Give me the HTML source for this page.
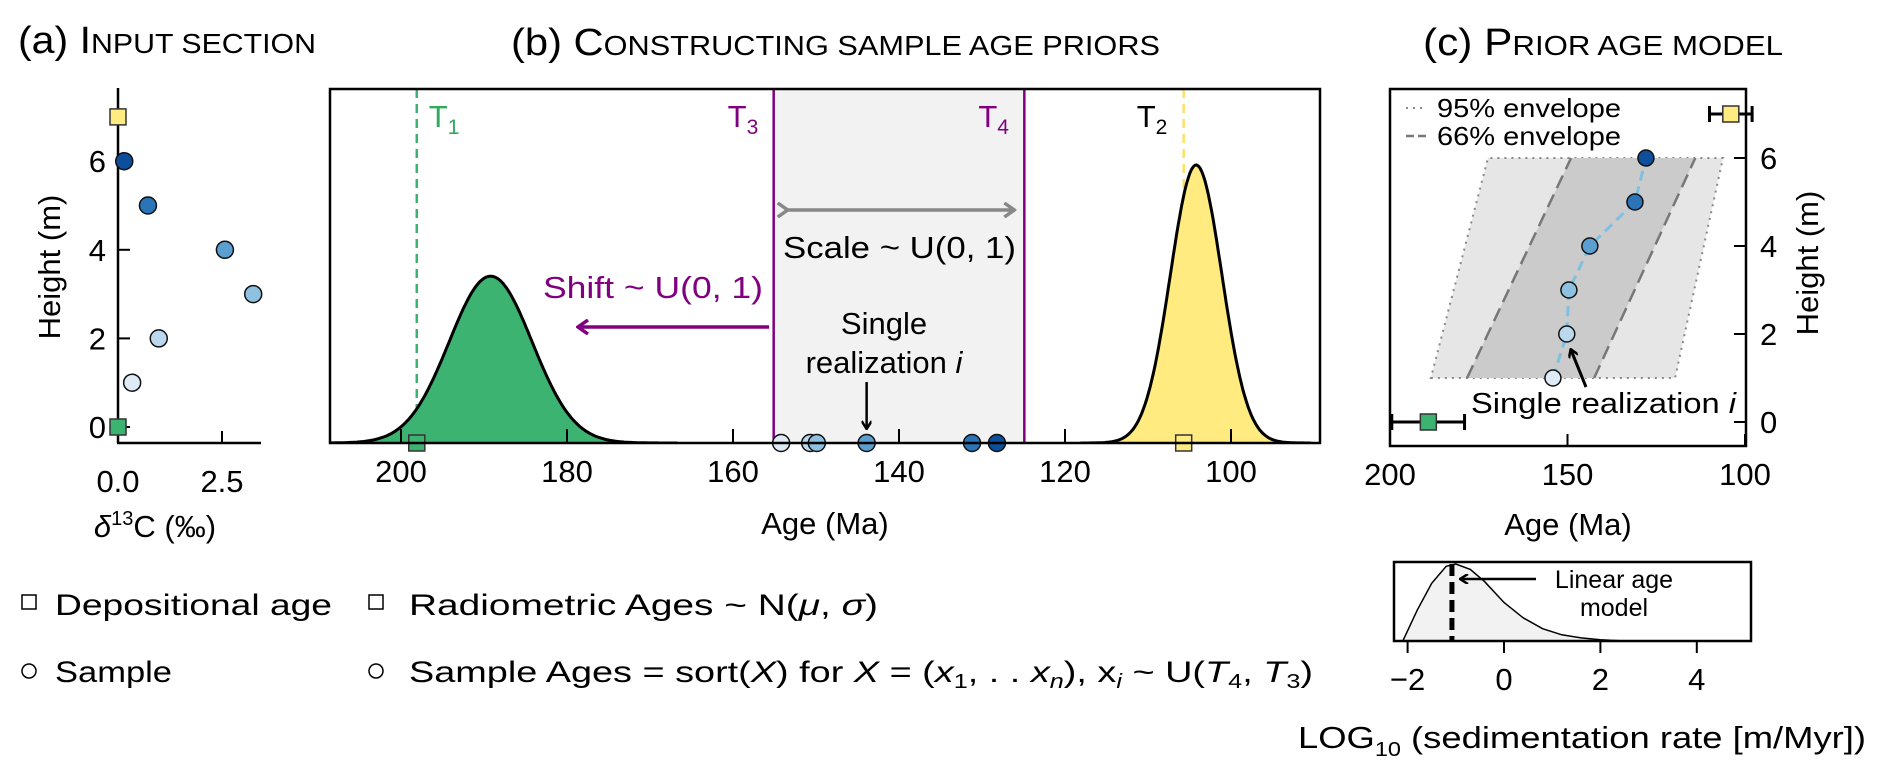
<!DOCTYPE html>
<html><head><meta charset="utf-8"><style>
body{margin:0;background:#fff}
svg{display:block;font-family:"Liberation Sans",sans-serif}
</style></head><body>
<svg id="fig" width="1892" height="776" viewBox="0 0 1892 776" xmlns="http://www.w3.org/2000/svg">
<defs>
<marker id="ahB" markerWidth="10" markerHeight="10" refX="8" refY="5" orient="auto" markerUnits="userSpaceOnUse"><path d="M1,0 L9,5 L1,10" fill="none" stroke="#000" stroke-width="2.5"/></marker>
<marker id="ahP" markerWidth="14" markerHeight="16" refX="12" refY="8" orient="auto" markerUnits="userSpaceOnUse"><path d="M2,1 L12,8 L2,15" fill="none" stroke="#800080" stroke-width="3.5"/></marker>
<marker id="ahG" markerWidth="14" markerHeight="16" refX="12" refY="8" orient="auto" markerUnits="userSpaceOnUse"><path d="M2,1 L12,8 L2,15" fill="none" stroke="#888" stroke-width="3.5"/></marker>
<clipPath id="clipB"><rect x="330" y="89" width="990" height="354"/></clipPath>
<clipPath id="clipD"><rect x="1394" y="562" width="357" height="79"/></clipPath>
</defs>

<text x="18" y="53" font-size="38" textLength="298" lengthAdjust="spacingAndGlyphs">(a) I<tspan font-size="28">NPUT SECTION</tspan></text>
<text x="511" y="55" font-size="38" textLength="649" lengthAdjust="spacingAndGlyphs">(b) C<tspan font-size="28">ONSTRUCTING SAMPLE AGE PRIORS</tspan></text>
<text x="1423" y="55" font-size="38" textLength="360" lengthAdjust="spacingAndGlyphs">(c) P<tspan font-size="28">RIOR AGE MODEL</tspan></text>

<g id="pa"></g>
<g id="pb"></g>
<g id="pc"></g>
<g id="pd"></g>

<g font-size="30">
<rect x="22" y="595" width="14" height="14" fill="none" stroke="#000" stroke-width="1.5"/>
<text x="55" y="615" textLength="277" lengthAdjust="spacingAndGlyphs">Depositional age</text>
<circle cx="29" cy="671" r="7" fill="none" stroke="#000" stroke-width="1.5"/>
<text x="55" y="682" textLength="117" lengthAdjust="spacingAndGlyphs">Sample</text>
<rect x="369" y="595" width="14" height="14" fill="none" stroke="#000" stroke-width="1.5"/>
<text x="409" y="615" textLength="469" lengthAdjust="spacingAndGlyphs">Radiometric Ages  ~  N(<tspan font-style="italic">μ</tspan>, <tspan font-style="italic">σ</tspan>)</text>
<circle cx="376" cy="671" r="7" fill="none" stroke="#000" stroke-width="1.5"/>
<text x="409" y="682" textLength="904" lengthAdjust="spacingAndGlyphs">Sample Ages = sort(<tspan font-style="italic">X</tspan>) for <tspan font-style="italic">X</tspan> = (<tspan font-style="italic">x</tspan><tspan font-size="20" dy="6">1</tspan><tspan dy="-6">, . . </tspan><tspan font-style="italic">x</tspan><tspan font-size="20" dy="6" font-style="italic">n</tspan><tspan dy="-6">),  x</tspan><tspan font-size="20" dy="6" font-style="italic">i</tspan><tspan dy="-6"> ~ U(</tspan><tspan font-style="italic">T</tspan><tspan font-size="20" dy="6">4</tspan><tspan dy="-6">,  </tspan><tspan font-style="italic">T</tspan><tspan font-size="20" dy="6">3</tspan><tspan dy="-6">)</tspan></text>
</g>
</svg>
<script>
// ---------- data ----------
const heights = [1, 2, 3, 4, 5, 6];
const d13C = [0.34, 0.98, 3.25, 2.57, 0.72, 0.15];
const sampleColors = ['#deebf7', '#bcd8ee', '#8ec1e0', '#5b9fd0', '#2b74b7', '#0d4f9a'];
const depHeights = [0, 7];
const depColors = ['#3cb371', '#ffeb80'];
const aYTicks = [0, 2, 4, 6];
const aXTicks = [0, 2.5];
const aXTickLabels = ['0.0', '2.5'];

const bXTicks = [200, 180, 160, 140, 120, 100];
const distMu = [189.2, 104.2];
const distSigma = [5.0, 3.1];
const distPeak = [0.6, 1.0];
const tAges = [198.1, 105.7, 155.1, 124.9]; // T1, T2, T3, T4
const priorSampleAges = [154.2, 150.7, 149.9, 143.9, 131.2, 128.2];

const cSampleAges = [154.1, 150.2, 149.6, 143.7, 131.0, 127.9];
const env95Low = [188.5, 172.4];
const env95High = [119.7, 106.2];
const env66Low = [178.3, 149];
const env66High = [142.5, 114];
const envHeights = [1, 6];
const depAgeMean = [189.2, 104];
const depAgeLo = [199.5, 110];
const depAgeHi = [179, 98];
const cXTicks = [200, 150, 100];

const rateX = [-2.1, -1.8, -1.5, -1.2, -1.0, -0.7, -0.4, 0, 0.4, 0.8, 1.2, 1.6, 2.0, 2.5, 5.2];
const rateD = [0, 0.4, 0.75, 0.97, 1.0, 0.93, 0.77, 0.5, 0.3, 0.16, 0.08, 0.04, 0.015, 0, 0];
const rateTicks = [-2, 0, 2, 4];
const linearRate = -1.08;

const NS = 'http://www.w3.org/2000/svg';
function mk(tag, parent, attrs) { const e = document.createElementNS(NS, tag); for (const k in attrs) e.setAttribute(k, attrs[k]); parent.appendChild(e); return e; }

// ---------- panel a ----------
const pa = document.getElementById('pa');
const ax = v => 118 + 41.6 * v;
const ay = h => 427 - 44.3 * h;
let e;
e = mk('line', pa, {x1: 118, y1: 88, x2: 118, y2: 443, stroke: '#000', 'stroke-width': 2.5});
 
e = mk('line', pa, {x1: 117, y1: 443, x2: 261, y2: 443, stroke: '#000', 'stroke-width': 2.5});
 
aYTicks.forEach(t => {
  e = mk('line', pa, {x1: 118, y1: ay(t), x2: 130, y2: ay(t), stroke: '#000', 'stroke-width': 2});
   
  e = mk('text', pa, {x: 106, y: ay(t) + 11, 'font-size': 31, 'text-anchor': 'end'}); e.textContent = t;
   
});
aXTicks.forEach((t, i) => {
  e = mk('line', pa, {x1: ax(t), y1: 443, x2: ax(t), y2: 431, stroke: '#000', 'stroke-width': 2});
   
  e = mk('text', pa, {x: ax(t), y: 492, 'font-size': 31, 'text-anchor': 'middle'}); e.textContent = aXTickLabels[i];
   
});
e = mk('text', pa, {x: 60, y: 267, 'font-size': 31, 'text-anchor': 'middle', transform: 'rotate(-90 60 267)'}); e.textContent = 'Height (m)';
 
e = mk('text', pa, {x: 155, y: 537, 'font-size': 31, 'text-anchor': 'middle'});
e.innerHTML = '<tspan font-style="italic">δ</tspan><tspan font-size="20" dy="-12">13</tspan><tspan dy="12">C (‰)</tspan>';
 
depHeights.forEach((h, i) => {
  e = mk('rect', pa, {x: 110, y: ay(h) - 8, width: 16, height: 16, fill: depColors[i], stroke: '#333', 'stroke-width': 1.5});
   
});
heights.forEach((h, i) => {
  e = mk('circle', pa, {cx: ax(d13C[i]), cy: ay(h), r: 8.5, fill: sampleColors[i], stroke: '#111', 'stroke-width': 1.5});
   
});

// ---------- panel b ----------
const pb = document.getElementById('pb');
const bx = a => 401 + (200 - a) * 8.3;
const B0 = 443, BT = 89, BH = 278;
e = mk('rect', pb, {x: bx(tAges[2]), y: BT, width: bx(tAges[3]) - bx(tAges[2]), height: B0 - BT, fill: '#f2f2f2'});
 
e = mk('line', pb, {x1: bx(tAges[0]), y1: BT, x2: bx(tAges[0]), y2: B0, stroke: '#3cb371', 'stroke-width': 2.5, 'stroke-dasharray': '9 6'});
 
e = mk('line', pb, {x1: bx(tAges[1]), y1: BT, x2: bx(tAges[1]), y2: B0, stroke: '#ffe066', 'stroke-width': 2.5, 'stroke-dasharray': '9 6'});
 
const distG = mk('g', pb, {'clip-path': 'url(#clipB)'});
 
distMu.forEach((mu, i) => {
  let d = '';
  for (let a = mu + 4.5 * distSigma[i]; a >= mu - 4.5 * distSigma[i]; a -= 0.2) {
    const v = distPeak[i] * Math.exp(-0.5 * ((a - mu) / distSigma[i]) ** 2);
    d += (d ? 'L' : 'M') + bx(a).toFixed(1) + ',' + (B0 - v * BH).toFixed(1);
  }
  e = mk('path', distG, {d: d, fill: depColors[i], stroke: '#000', 'stroke-width': 3});
   
});
[2, 3].forEach(k => {
  e = mk('line', pb, {x1: bx(tAges[k]), y1: BT, x2: bx(tAges[k]), y2: B0, stroke: '#800080', 'stroke-width': 2.5});
   
});
const tLab = [['T', '1', bx(tAges[0]) + 12, '#2eab5e'], ['T', '2', bx(tAges[1]) - 47, '#000'], ['T', '3', bx(tAges[2]) - 46, '#800080'], ['T', '4', bx(tAges[3]) - 46, '#800080']];
tLab.forEach(l => {
  e = mk('text', pb, {x: l[2], y: 127, 'font-size': 31, fill: l[3]});
  e.innerHTML = l[0] + '<tspan font-size="21" dy="7">' + l[1] + '</tspan>';
   
});
e = mk('line', pb, {x1: bx(tAges[2]) + 14, y1: 210, x2: bx(tAges[3]) - 10, y2: 210, stroke: '#888', 'stroke-width': 3.5, 'marker-end': 'url(#ahG)', 'marker-start': 'url(#ahG)'});
 
e = mk('text', pb, {x: 783, y: 258, 'font-size': 31, textLength: 233, lengthAdjust: 'spacingAndGlyphs'}); e.textContent = 'Scale ~ U(0, 1)';
 
e = mk('text', pb, {x: 543, y: 298, 'font-size': 31, fill: '#800080', textLength: 220, lengthAdjust: 'spacingAndGlyphs'}); e.textContent = 'Shift ~ U(0, 1)';
 
e = mk('line', pb, {x1: 769, y1: 327, x2: 578, y2: 327, stroke: '#800080', 'stroke-width': 3.5, 'marker-end': 'url(#ahP)'});
 
e = mk('text', pb, {x: 884, y: 334, 'font-size': 31, 'text-anchor': 'middle'}); e.textContent = 'Single';
 
e = mk('text', pb, {x: 884, y: 373, 'font-size': 31, 'text-anchor': 'middle'}); e.innerHTML = 'realization <tspan font-style="italic">i</tspan>';
 
e = mk('line', pb, {x1: bx(priorSampleAges[3]), y1: 382, x2: bx(priorSampleAges[3]), y2: 428, stroke: '#000', 'stroke-width': 2.5, 'marker-end': 'url(#ahB)'});
 
bXTicks.forEach(t => {
  e = mk('line', pb, {x1: bx(t), y1: B0, x2: bx(t), y2: B0 - 14, stroke: '#000', 'stroke-width': 2});
   
  e = mk('text', pb, {x: bx(t), y: 482, 'font-size': 31, 'text-anchor': 'middle'}); e.textContent = t;
   
});
e = mk('text', pb, {x: 825, y: 534, 'font-size': 31, 'text-anchor': 'middle'}); e.textContent = 'Age (Ma)';
 
e = mk('rect', pb, {x: bx(tAges[0]) - 8, y: B0 - 8, width: 16, height: 16, fill: depColors[0], stroke: '#333', 'stroke-width': 1.5});
 
e = mk('rect', pb, {x: bx(tAges[1]) - 8, y: B0 - 8, width: 16, height: 16, fill: depColors[1], stroke: '#333', 'stroke-width': 1.5});
 
priorSampleAges.forEach((a, i) => {
  e = mk('circle', pb, {cx: bx(a), cy: B0, r: 8.5, fill: sampleColors[i], stroke: '#111', 'stroke-width': 1.5});
   
});
e = mk('rect', pb, {x: 330, y: BT, width: 990, height: B0 - BT, fill: 'none', stroke: '#000', 'stroke-width': 2.5});
 

// ---------- panel c ----------
const pc = document.getElementById('pc');
const C0 = 446;
const cx = a => 1390 + (200 - a) * 3.55;
const cy = h => 422 - 44 * h;
function poly(lo, hi) { return [cx(lo[0]) + ',' + cy(envHeights[0]), cx(hi[0]) + ',' + cy(envHeights[0]), cx(hi[1]) + ',' + cy(envHeights[1]), cx(lo[1]) + ',' + cy(envHeights[1])].join(' '); }
e = mk('polygon', pc, {points: poly(env95Low, env95High), fill: '#e6e6e6', stroke: '#888', 'stroke-width': 2, 'stroke-dasharray': '2 5'});
 
e = mk('polygon', pc, {points: poly(env66Low, env66High), fill: '#cbcbcb', stroke: 'none'});
 
[env66Low, env66High].forEach(s => {
  e = mk('line', pc, {x1: cx(s[0]), y1: cy(envHeights[0]), x2: cx(s[1]), y2: cy(envHeights[1]), stroke: '#777', 'stroke-width': 2.5, 'stroke-dasharray': '14 7'});
   
});
e = mk('polyline', pc, {points: heights.map((h, i) => cx(cSampleAges[i]) + ',' + cy(h)).join(' '), fill: 'none', stroke: '#7fc0e0', 'stroke-width': 3, 'stroke-dasharray': '10 6'});
 
heights.forEach((h, i) => {
  e = mk('circle', pc, {cx: cx(cSampleAges[i]), cy: cy(h), r: 8, fill: sampleColors[i], stroke: '#111', 'stroke-width': 1.5});
   
});
depHeights.forEach((h, i) => {
  e = mk('line', pc, {x1: cx(depAgeLo[i]), y1: cy(h), x2: cx(depAgeHi[i]), y2: cy(h), stroke: '#000', 'stroke-width': 3});
   
  [depAgeLo[i], depAgeHi[i]].forEach(a => {
    e = mk('line', pc, {x1: cx(a), y1: cy(h) - 8, x2: cx(a), y2: cy(h) + 8, stroke: '#000', 'stroke-width': 3});
     
  });
  e = mk('rect', pc, {x: cx(depAgeMean[i]) - 8, y: cy(h) - 8, width: 16, height: 16, fill: depColors[i], stroke: '#333', 'stroke-width': 1.5});
   
});
aYTicks.forEach(t => {
  e = mk('line', pc, {x1: 1746, y1: cy(t), x2: 1734, y2: cy(t), stroke: '#000', 'stroke-width': 2});
   
  e = mk('text', pc, {x: 1760, y: cy(t) + 11, 'font-size': 31}); e.textContent = t;
   
});
cXTicks.forEach(t => {
  e = mk('line', pc, {x1: cx(t), y1: C0, x2: cx(t), y2: C0 - 12, stroke: '#000', 'stroke-width': 2});
   
  e = mk('text', pc, {x: cx(t), y: 485, 'font-size': 31, 'text-anchor': 'middle'}); e.textContent = t;
   
});
e = mk('text', pc, {x: 1818, y: 263, 'font-size': 31, 'text-anchor': 'middle', transform: 'rotate(-90 1818 263)'}); e.textContent = 'Height (m)';
 
e = mk('text', pc, {x: 1568, y: 535, 'font-size': 31, 'text-anchor': 'middle'}); e.textContent = 'Age (Ma)';
 
e = mk('line', pc, {x1: 1406, y1: 108, x2: 1426, y2: 108, stroke: '#888', 'stroke-width': 2, 'stroke-dasharray': '2 5'});
 
e = mk('text', pc, {x: 1437, y: 117, 'font-size': 26, textLength: 184, lengthAdjust: 'spacingAndGlyphs'}); e.textContent = '95% envelope';
 
e = mk('line', pc, {x1: 1406, y1: 136, x2: 1426, y2: 136, stroke: '#777', 'stroke-width': 2.5, 'stroke-dasharray': '8 4'});
 
e = mk('text', pc, {x: 1437, y: 145, 'font-size': 26, textLength: 184, lengthAdjust: 'spacingAndGlyphs'}); e.textContent = '66% envelope';
 
e = mk('text', pc, {x: 1471, y: 413, 'font-size': 29, textLength: 265, lengthAdjust: 'spacingAndGlyphs'}); e.innerHTML = 'Single realization <tspan font-style="italic">i</tspan>';
 
e = mk('line', pc, {x1: 1586, y1: 387, x2: 1571, y2: 350, stroke: '#000', 'stroke-width': 3, 'marker-end': 'url(#ahB)'});
 
e = mk('rect', pc, {x: 1390, y: 89, width: 356, height: C0 - 89, fill: 'none', stroke: '#000', 'stroke-width': 2.5});
 

// ---------- sedimentation rate panel ----------
const pd = document.getElementById('pd');
const dx = v => 1504 + v * 48.2;
const D0 = 641, DT = 562, DH = 77;
const dG = mk('g', pd, {'clip-path': 'url(#clipD)'});
 
let dd = '';
rateX.forEach((v, i) => { dd += (i ? 'L' : 'M') + dx(v).toFixed(1) + ',' + (D0 - rateD[i] * DH).toFixed(1); });
e = mk('path', dG, {d: dd + 'Z', fill: '#f2f2f2', stroke: 'none'});
 
e = mk('path', dG, {d: dd, fill: 'none', stroke: '#000', 'stroke-width': 1.5});
 
e = mk('line', pd, {x1: dx(linearRate), y1: DT + 2, x2: dx(linearRate), y2: D0, stroke: '#000', 'stroke-width': 5, 'stroke-dasharray': '12 6'});
 
e = mk('line', pd, {x1: 1536, y1: 579, x2: 1461, y2: 579, stroke: '#000', 'stroke-width': 2.5, 'marker-end': 'url(#ahB)'});
 
e = mk('text', pd, {x: 1614, y: 588, 'font-size': 25, 'text-anchor': 'middle'}); e.textContent = 'Linear age';
 
e = mk('text', pd, {x: 1614, y: 616, 'font-size': 25, 'text-anchor': 'middle'}); e.textContent = 'model';
 
e = mk('rect', pd, {x: 1394, y: DT, width: 357, height: D0 - DT, fill: 'none', stroke: '#000', 'stroke-width': 2.5});
 
rateTicks.forEach(t => {
  e = mk('line', pd, {x1: dx(t), y1: D0, x2: dx(t), y2: D0 + 12, stroke: '#000', 'stroke-width': 2});
   
  e = mk('text', pd, {x: dx(t), y: 690, 'font-size': 31, 'text-anchor': 'middle'}); e.textContent = t < 0 ? '\u2212' + (-t) : t;
   
});
e = mk('text', pd, {x: 1298, y: 748, 'font-size': 31, textLength: 568, lengthAdjust: 'spacingAndGlyphs'});
e.innerHTML = 'LOG<tspan font-size="20" dy="8">10</tspan><tspan dy="-8"> (sedimentation rate [m/Myr])</tspan>';
 
</script>
</body></html>
